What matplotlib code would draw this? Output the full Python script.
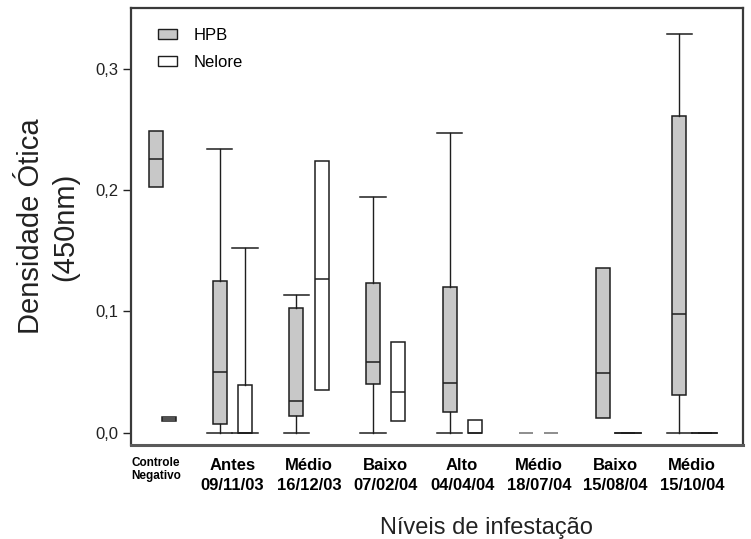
import numpy as np
import matplotlib
matplotlib.use("Agg")
import matplotlib.pyplot as plt
from matplotlib.patches import Patch
from matplotlib.ticker import FuncFormatter

plt.rcParams['font.family'] = ['Liberation Sans', 'DejaVu Sans']

# Categories (sampling events)
categories = ["Controle\nNegativo", "Antes\n09/11/03", "Médio\n16/12/03", "Baixo\n07/02/04",
              "Alto\n04/04/04", "Médio\n18/07/04", "Baixo\n15/08/04", "Médio\n15/10/04"]

# HPB box statistics (optical density)
hpb_q1 = [0.2024, 0.007, 0.0138, 0.040, 0.0173, 0.0, 0.0124, 0.0308]
hpb_med = [0.2257, 0.050, 0.026, 0.0585, 0.0407, 0.0, 0.0489, 0.0975]
hpb_q3 = [0.249, 0.125, 0.103, 0.123, 0.1198, 0.0, 0.1354, 0.2606]
hpb_lo = [0.2024, 0.0, 0.0, 0.0, 0.0, 0.0, 0.0124, 0.0]
hpb_hi = [0.249, 0.234, 0.1134, 0.194, 0.247, 0.0, 0.1354, 0.3287]
hpb_caps = [False, True, True, True, True, False, False, True]

# Nelore box statistics (optical density)
nel_q1 = [0.0097, 0.0, 0.035, 0.0094, 0.0, 0.0, 0.0, 0.0]
nel_med = [0.011, 0.0, 0.127, 0.0333, 0.0, 0.0, 0.0, 0.0]
nel_q3 = [0.0129, 0.039, 0.224, 0.0745, 0.0102, 0.0, 0.0, 0.0]
nel_lo = [0.0097, 0.0, 0.035, 0.0094, 0.0, 0.0, 0.0, 0.0]
nel_hi = [0.0129, 0.152, 0.224, 0.0745, 0.0102, 0.0, 0.0, 0.0]
nel_caps = [False, True, False, False, False, False, True, True]

yticks = [0.0, 0.1, 0.2, 0.3]

n = len(categories)
idx = np.arange(n, dtype=float)
off = 0.165
hpb_pos = idx - off
hpb_pos[0] = 0.0
nel_pos = idx + off
nel_pos[0] = 0.17

fig = plt.figure(figsize=(7.51, 5.39), dpi=100)
ax = fig.add_axes([131 / 751, 1 - 445 / 539, 612 / 751, 437 / 539])

GRAY = "#c8c8c8"
EDGE = "#1e1e1e"


def draw(q1, med, q3, lo, hi, caps, pos, face):
    for i in range(n):
        st = [dict(q1=q1[i], med=med[i], q3=q3[i], whislo=lo[i], whishi=hi[i], fliers=[])]
        flat = q3[i] == q1[i] and not caps[i]
        edge = "#8a8a8a" if flat else EDGE
        ax.bxp(st, positions=[pos[i]], widths=0.183, patch_artist=True,
               showcaps=caps[i], showfliers=False, capwidths=0.33,
               boxprops=dict(facecolor=face, edgecolor=edge, linewidth=1.1),
               medianprops=dict(color=edge, linewidth=1.1),
               whiskerprops=dict(color=EDGE, linewidth=1.0),
               capprops=dict(color=EDGE, linewidth=1.1),
               manage_ticks=False)


draw(hpb_q1, hpb_med, hpb_q3, hpb_lo, hpb_hi, hpb_caps, hpb_pos, GRAY)
draw(nel_q1, nel_med, nel_q3, nel_lo, nel_hi, nel_caps, nel_pos, "white")

ax.set_xlim(-0.325, 7.667)
ax.set_ylim(-0.0101, 0.35)

ax.set_yticks(yticks)
ax.yaxis.set_major_formatter(FuncFormatter(lambda v, p: f"{v:.1f}".replace(".", ",")))
ax.tick_params(axis="y", direction="out", length=6, width=1.0, labelsize=12, pad=3, colors="#222222")

ax.set_xticks(idx)
ax.set_xticklabels(categories, fontweight="bold", fontsize=12, linespacing=1.45)
ax.tick_params(axis="x", length=0, pad=9)
lab0 = ax.get_xticklabels()[0]
lab0.set_fontsize(8.5)
lab0.set_linespacing(1.1)

for s in ax.spines.values():
    s.set_color("#3a3a3a")
    s.set_linewidth(1.6)
ax.spines["bottom"].set_color("#5a5a5a")
ax.spines["bottom"].set_linewidth(2.2)

ax.set_ylabel("Densidade Ótica\n(450nm)", fontsize=21, linespacing=1.25, color="#222222")
ax.yaxis.set_label_coords(-0.085, 0.5)
ax.set_xlabel("Níveis de infestação", fontsize=17, color="#222222")
ax.xaxis.set_label_coords(0.58, -0.165)

handles = [Patch(facecolor=GRAY, edgecolor=EDGE, linewidth=1.0, label="HPB"),
           Patch(facecolor="white", edgecolor=EDGE, linewidth=1.0, label="Nelore")]
ax.legend(handles=handles, loc="upper left", frameon=False, fontsize=12,
          bbox_to_anchor=((158 - 131) / 612, 1 - (28 - 8) / 437), borderaxespad=0,
          borderpad=0, handlelength=1.15, handleheight=0.55, handletextpad=1.0,
          labelspacing=0.7)

fig.savefig("out.png", dpi=100)
